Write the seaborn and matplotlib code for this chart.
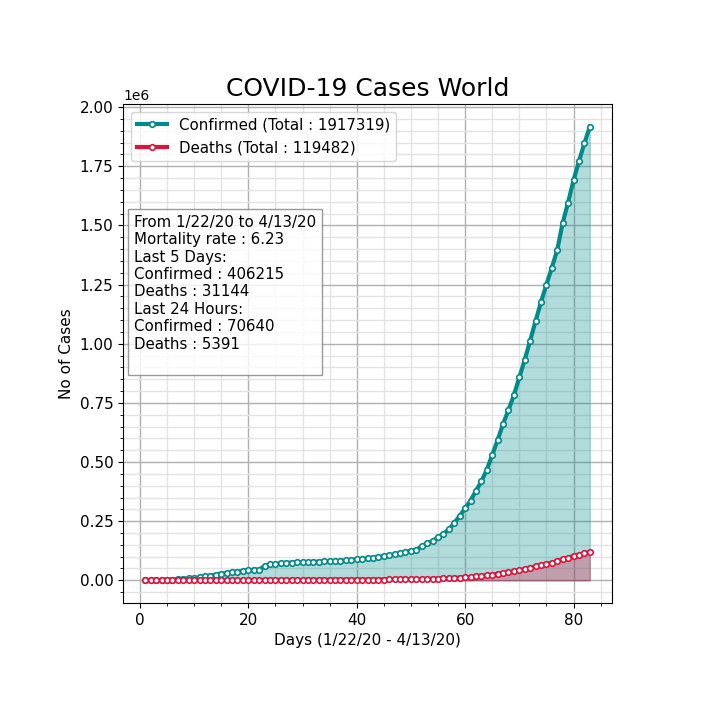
import matplotlib
matplotlib.use("Agg")
import matplotlib.pyplot as plt
import seaborn as sns
import numpy as np

# cumulative world totals, 1/22/20 .. 4/13/20
confirmed = [555, 654, 941, 1434, 2118, 2927, 5578, 6166, 8234, 9927,
             12038, 16787, 19881, 23892, 27635, 30794, 34391, 37120, 40150, 42762,
             44802, 45221, 60368, 66885, 69030, 71224, 73258, 75136, 75639, 76197,
             76819, 78572, 78958, 79561, 80406, 81388, 82746, 84112, 86011, 88369,
             90306, 92840, 95120, 97886, 101801, 105847, 109821, 113590, 118620, 125875,
             128352, 145205, 156101, 167454, 181574, 197102, 214821, 242570, 272208, 304507,
             336953, 378231, 418041, 467653, 529591, 593291, 660706, 720117, 782365, 857487,
             932605, 1013157, 1095917, 1176060, 1249754, 1321481, 1396476, 1511104, 1597000, 1691000,
             1771000, 1846679, 1917319]
deaths = [17, 18, 26, 42, 56, 82, 131, 133, 171, 213,
          259, 362, 426, 492, 564, 634, 719, 806, 906, 1013,
          1113, 1118, 1371, 1523, 1666, 1770, 1868, 2007, 2122, 2247,
          2251, 2458, 2469, 2629, 2708, 2770, 2814, 2872, 2941, 2996,
          3085, 3160, 3254, 3348, 3460, 3558, 3802, 3988, 4262, 4615,
          4720, 5404, 5819, 6440, 7126, 7905, 8733, 9867, 11299, 12973,
          14623, 16497, 18615, 21181, 23970, 27198, 30652, 33925, 37582, 42107,
          46809, 52983, 58787, 64606, 69374, 74565, 81865, 88338, 95455, 102525,
          108503, 114091, 119482]
days = np.arange(1, len(confirmed) + 1)

info = ("From 1/22/20 to 4/13/20\n"
        "Mortality rate : 6.23\n"
        "Last 5 Days:\n"
        "Confirmed : 406215\n"
        "Deaths : 31144\n"
        "Last 24 Hours:\n"
        "Confirmed : 70640\n"
        "Deaths : 5391\n ")

fig = plt.figure(figsize=(7.2, 7.2), dpi=100)
ax = fig.add_axes([0.171, 0.1625, 0.679, 0.693])

sns.lineplot(x=days, y=confirmed, ax=ax, color="darkcyan", lw=3, marker="o",
             ms=4, mfc="white", mec="darkcyan", mew=1.2,
             label="Confirmed (Total : %d)" % confirmed[-1])
sns.lineplot(x=days, y=deaths, ax=ax, color="crimson", lw=3, marker="o",
             ms=4, mfc="white", mec="crimson", mew=1.2,
             label="Deaths (Total : %d)" % deaths[-1])
ax.fill_between(days, confirmed, color="darkcyan", alpha=0.3)
ax.fill_between(days, deaths, color="crimson", alpha=0.3)

ax.minorticks_on()
ax.grid(which="major", color="#b0b0b0", lw=1)
ax.grid(which="minor", color="#e4e4e4", lw=1)
ax.set_axisbelow(True)

ax.set_title("COVID-19 Cases World", fontsize=18)
ax.set_xlabel("Days (1/22/20 - 4/13/20)", fontsize=11)
ax.set_ylabel("No of Cases", fontsize=11)
ax.tick_params(labelsize=11)
ax.legend(loc="upper left", fontsize=10.8)
ax.text(0.022, 0.778, info, transform=ax.transAxes, fontsize=10.8, va="top",
        bbox=dict(facecolor="white", edgecolor="gray", alpha=0.8))

fig.savefig("out.png", dpi=100)
